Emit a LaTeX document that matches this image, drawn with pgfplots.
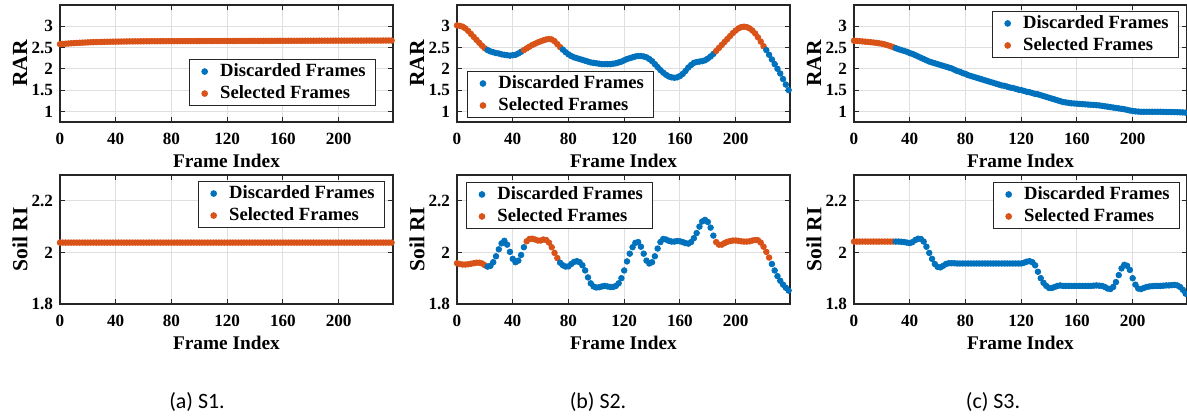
\documentclass[border=0pt]{standalone}
\usepackage{pgfplots}
\pgfplotsset{compat=1.18}
\usepackage{fontspec}
\setmainfont{Liberation Serif}
\newfontfamily\capfont{Carlito}
\definecolor{mblue}{RGB}{0,114,189}
\definecolor{morange}{RGB}{217,83,25}
\definecolor{axc}{RGB}{38,38,38}
\definecolor{gridc}{RGB}{223,223,223}
\pgfplotsset{
  mstyle/.style={
    scale only axis, width=166.5bp,
    xmin=0, xmax=239, xtick={0,40,80,120,160,200},
    grid=major, major grid style={line width=0.5bp, color=gridc},
    axis line style={line width=0.6bp, color=axc},
    tick style={line width=0.5bp, color=axc}, major tick length=2.5bp, tick align=inside,
    ticklabel style={font=\rmfamily\bfseries\fontsize{8.6}{9.5}\selectfont, text=black},
    xticklabel style={yshift=-2bp},
    /pgf/number format/assume math mode=true,
    label style={font=\rmfamily\bfseries\fontsize{9.7}{11}\selectfont, text=black},
    xlabel={Frame Index},
    xlabel style={at={(axis description cs:0.5,0)}, anchor=base, yshift=-23bp},
    ylabel style={at={(axis description cs:-0.1201,0.5)}, anchor=center, font=\rmfamily\bfseries\fontsize{10.8}{12}\selectfont},
    legend style={font=\rmfamily\bfseries\fontsize{9.35}{11}\selectfont, draw=axc, line width=0.5bp, fill=white,
      inner xsep=3pt, inner ysep=0.5bp, cells={anchor=west},
      nodes={inner xsep=2pt, inner ysep=0.8bp, text height=7bp, text depth=2.4bp}},
    legend image code/.code={\path (0bp,0bp) (10bp,0bp); \draw[##1] plot coordinates {(4.5bp,0bp)};},
  },
  toprow/.style={height=58.5bp, ymin=0.75, ymax=3.5, ytick={1,1.5,2,2.5,3}, ylabel={RAR}},
  botrow/.style={height=64.5bp, ymin=1.8, ymax=2.3, ytick={1.8,2,2.2}, ylabel={Soil RI}},
  bl/.style={only marks, mark=*, mark size=1.4bp, color=mblue, forget plot},
  og/.style={only marks, mark=*, mark size=1.4bp, color=morange, forget plot},
}
\newcommand\leg{%
  \addlegendimage{only marks, mark=*, mark size=1.4bp, color=mblue}\addlegendentry{Discarded Frames}%
  \addlegendimage{only marks, mark=*, mark size=1.4bp, color=morange}\addlegendentry{Selected Frames}}
\begin{document}
\begin{tikzpicture}
\path[use as bounding box] (0,0) rectangle (593.5bp,209.5bp);
% ---------------- (a) top
\begin{axis}[mstyle, toprow, at={(30bp,148.5bp)}, anchor=south west,
  legend style={at={(0.949,0.538)}, anchor=north east}]
\leg
\addplot[og] coordinates {(0,2.580)(2,2.585)(4,2.590)(6,2.595)(8,2.600)(10,2.604)(12,2.608)(14,2.612)(16,2.615)(18,2.618)(20,2.621)(22,2.624)(24,2.626)(26,2.628)(28,2.630)(30,2.632)(32,2.634)(34,2.636)(36,2.637)(38,2.638)(40,2.639)(42,2.640)(44,2.641)(46,2.642)(48,2.643)(50,2.644)(52,2.644)(54,2.645)(56,2.645)(58,2.646)(60,2.646)(62,2.647)(64,2.647)(66,2.648)(68,2.648)(70,2.648)(72,2.649)(74,2.649)(76,2.649)(78,2.650)(80,2.650)(82,2.650)(84,2.650)(86,2.651)(88,2.651)(90,2.651)(92,2.651)(94,2.651)(96,2.652)(98,2.652)(100,2.652)(102,2.652)(104,2.652)(106,2.653)(108,2.653)(110,2.653)(112,2.653)(114,2.653)(116,2.654)(118,2.654)(120,2.654)(122,2.654)(124,2.654)(126,2.655)(128,2.655)(130,2.655)(132,2.655)(134,2.655)(136,2.656)(138,2.656)(140,2.656)(142,2.656)(144,2.656)(146,2.657)(148,2.657)(150,2.657)(152,2.657)(154,2.657)(156,2.658)(158,2.658)(160,2.658)(162,2.658)(164,2.658)(166,2.659)(168,2.659)(170,2.659)(172,2.659)(174,2.659)(176,2.660)(178,2.660)(180,2.660)(182,2.660)(184,2.660)(186,2.661)(188,2.661)(190,2.661)(192,2.661)(194,2.661)(196,2.662)(198,2.662)(200,2.662)(202,2.662)(204,2.662)(206,2.662)(208,2.663)(210,2.663)(212,2.663)(214,2.663)(216,2.663)(218,2.663)(220,2.664)(222,2.664)(224,2.664)(226,2.664)(228,2.664)(230,2.664)(232,2.665)(234,2.665)(236,2.665)(238,2.665)};
\end{axis}
% ---------------- (b) top
\begin{axis}[mstyle, toprow, at={(228.5bp,148.5bp)}, anchor=south west,
  legend style={at={(0.03,0.034)}, anchor=south west}]
\leg
\addplot[og] coordinates {(0,3.02)(2,3.01)(4,2.99)(6,2.95)(8,2.89)(10,2.82)(12,2.75)(14,2.68)(16,2.61)(18,2.54)(20,2.48)};
\addplot[bl] coordinates {(22,2.44)(24,2.41)(26,2.39)(28,2.37)(30,2.36)(32,2.34)(34,2.33)(36,2.32)(38,2.31)(40,2.32)(42,2.33)(44,2.36)(46,2.40)};
\addplot[og] coordinates {(48,2.44)(50,2.48)(52,2.52)(54,2.56)(56,2.59)(58,2.62)(60,2.645)(62,2.67)(64,2.69)(66,2.70)(68,2.69)(70,2.65)(72,2.58)(74,2.51)};
\addplot[bl] coordinates {(76,2.45)(78,2.39)(80,2.34)(82,2.30)(84,2.27)(86,2.25)(88,2.23)(90,2.21)(92,2.19)(94,2.17)(96,2.15)(98,2.14)(100,2.13)(102,2.12)(104,2.11)(106,2.11)(108,2.11)(110,2.11)(112,2.12)(114,2.13)(116,2.15)(118,2.17)(120,2.20)(122,2.23)(124,2.25)(126,2.27)(128,2.29)(130,2.30)(132,2.30)(134,2.29)(136,2.27)(138,2.23)(140,2.18)(142,2.11)(144,2.04)(146,1.97)(148,1.91)(150,1.86)(152,1.82)(154,1.80)(156,1.79)(158,1.80)(160,1.83)(162,1.88)(164,1.95)(166,2.03)(168,2.09)(170,2.14)(172,2.16)(174,2.17)(176,2.18)(178,2.20)(180,2.24)(182,2.29)(184,2.35)};
\addplot[og] coordinates {(186,2.42)(188,2.49)(190,2.56)(192,2.63)(194,2.70)(196,2.77)(198,2.84)(200,2.90)(202,2.95)(204,2.98)(206,2.99)(208,2.98)(210,2.95)(212,2.90)(214,2.83)(216,2.74)(218,2.64)(220,2.53)};
\addplot[bl] coordinates {(222,2.44)(224,2.33)(226,2.22)(228,2.11)(230,2.00)(232,1.89)(234,1.76)(236,1.63)(238,1.50)};
\end{axis}
% ---------------- (c) top
\begin{axis}[mstyle, toprow, at={(427bp,148.5bp)}, anchor=south west,
  legend style={at={(0.976,0.949)}, anchor=north east}]
\leg
\addplot[og] coordinates {(0,2.660)(2,2.655)(4,2.650)(6,2.644)(8,2.638)(10,2.632)(12,2.625)(14,2.618)(16,2.610)(18,2.600)(20,2.590)(22,2.575)(24,2.555)(26,2.535)(28,2.510)};
\addplot[bl] coordinates {(30,2.485)(32,2.46)(34,2.44)(36,2.42)(38,2.40)(40,2.37)(42,2.35)(44,2.32)(46,2.29)(48,2.26)(50,2.23)(52,2.20)(54,2.17)(56,2.15)(58,2.13)(60,2.11)(62,2.09)(64,2.07)(66,2.05)(68,2.03)(70,2.01)(72,1.98)(74,1.95)(76,1.93)(78,1.90)(80,1.88)(82,1.85)(84,1.83)(86,1.81)(88,1.79)(90,1.77)(92,1.75)(94,1.73)(96,1.71)(98,1.69)(100,1.67)(102,1.65)(104,1.63)(106,1.61)(108,1.60)(110,1.58)(112,1.56)(114,1.55)(116,1.53)(118,1.51)(120,1.50)(122,1.48)(124,1.46)(126,1.45)(128,1.43)(130,1.41)(132,1.40)(134,1.38)(136,1.36)(138,1.34)(140,1.32)(142,1.30)(144,1.28)(146,1.26)(148,1.24)(150,1.22)(152,1.21)(154,1.20)(156,1.19)(158,1.185)(160,1.18)(162,1.175)(164,1.17)(166,1.165)(168,1.16)(170,1.155)(172,1.15)(174,1.145)(176,1.14)(178,1.13)(180,1.12)(182,1.11)(184,1.10)(186,1.09)(188,1.08)(190,1.07)(192,1.06)(194,1.05)(196,1.035)(198,1.02)(200,1.01)(202,1.00)(204,0.995)(206,0.99)(208,0.99)(210,0.99)(212,0.99)(214,0.99)(216,0.99)(218,0.99)(220,0.99)(222,0.988)(224,0.986)(226,0.985)(228,0.984)(230,0.982)(232,0.98)(234,0.978)(236,0.975)(238,0.97)};
\end{axis}
% ---------------- (a) bottom
\begin{axis}[mstyle, botrow, at={(30bp,57.5bp)}, anchor=south west,
  legend style={at={(0.976,0.953)}, anchor=north east}]
\leg
\addplot[og] coordinates {(0,2.038)(2,2.038)(4,2.038)(6,2.038)(8,2.038)(10,2.038)(12,2.038)(14,2.038)(16,2.038)(18,2.038)(20,2.038)(22,2.038)(24,2.038)(26,2.038)(28,2.038)(30,2.038)(32,2.038)(34,2.038)(36,2.038)(38,2.038)(40,2.038)(42,2.038)(44,2.038)(46,2.038)(48,2.038)(50,2.038)(52,2.038)(54,2.038)(56,2.038)(58,2.038)(60,2.038)(62,2.038)(64,2.038)(66,2.038)(68,2.038)(70,2.038)(72,2.038)(74,2.038)(76,2.038)(78,2.038)(80,2.038)(82,2.038)(84,2.038)(86,2.038)(88,2.038)(90,2.038)(92,2.038)(94,2.038)(96,2.038)(98,2.038)(100,2.038)(102,2.038)(104,2.038)(106,2.038)(108,2.038)(110,2.038)(112,2.038)(114,2.038)(116,2.038)(118,2.038)(120,2.038)(122,2.038)(124,2.038)(126,2.038)(128,2.038)(130,2.038)(132,2.038)(134,2.038)(136,2.038)(138,2.038)(140,2.038)(142,2.038)(144,2.038)(146,2.038)(148,2.038)(150,2.038)(152,2.038)(154,2.038)(156,2.038)(158,2.038)(160,2.038)(162,2.038)(164,2.038)(166,2.038)(168,2.038)(170,2.038)(172,2.038)(174,2.038)(176,2.038)(178,2.038)(180,2.038)(182,2.038)(184,2.038)(186,2.038)(188,2.038)(190,2.038)(192,2.038)(194,2.038)(196,2.038)(198,2.038)(200,2.038)(202,2.038)(204,2.038)(206,2.038)(208,2.038)(210,2.038)(212,2.038)(214,2.038)(216,2.038)(218,2.038)(220,2.038)(222,2.038)(224,2.038)(226,2.038)(228,2.038)(230,2.038)(232,2.038)(234,2.038)(236,2.038)(238,2.038)};
\end{axis}
% ---------------- (b) bottom
\begin{axis}[mstyle, botrow, at={(228.5bp,57.5bp)}, anchor=south west,
  legend style={at={(0.027,0.946)}, anchor=north west}]
\leg
\addplot[og] coordinates {(0,1.958)(2,1.955)(4,1.953)(6,1.953)(8,1.954)(10,1.956)(12,1.958)(14,1.960)(16,1.960)(18,1.957)(20,1.950)};
\addplot[bl] coordinates {(22,1.945)(24,1.948)(26,1.962)(28,1.985)(30,2.012)(32,2.035)(34,2.045)(36,2.030)(38,2.002)(40,1.975)(42,1.962)(44,1.968)(46,1.990)(48,2.020)};
\addplot[og] coordinates {(50,2.043)(52,2.052)(54,2.053)(56,2.050)(58,2.046)(60,2.046)(62,2.050)(64,2.048)(66,2.038)(68,2.020)(70,1.998)(72,1.978)};
\addplot[bl] coordinates {(74,1.960)(76,1.950)(78,1.945)(80,1.946)(82,1.955)(84,1.963)(86,1.966)(88,1.962)(90,1.950)(92,1.930)(94,1.903)(96,1.880)(98,1.868)(100,1.864)(102,1.865)(104,1.868)(106,1.870)(108,1.868)(110,1.866)(112,1.866)(114,1.870)(116,1.880)(118,1.900)(120,1.930)(122,1.965)(124,1.995)(126,2.020)(128,2.037)(130,2.040)(132,2.022)(134,1.995)(136,1.968)(138,1.957)(140,1.962)(142,1.985)(144,2.015)(146,2.040)(148,2.052)(150,2.050)(152,2.045)(154,2.042)(156,2.042)(158,2.044)(160,2.043)(162,2.040)(164,2.036)(166,2.034)(168,2.040)(170,2.055)(172,2.075)(174,2.100)(176,2.120)(178,2.126)(180,2.118)(182,2.096)(184,2.065)};
\addplot[og] coordinates {(186,2.040)(188,2.030)(190,2.030)(192,2.036)(194,2.041)(196,2.044)(198,2.046)(200,2.046)(202,2.045)(204,2.043)(206,2.042)(208,2.042)(210,2.043)(212,2.046)(214,2.048)(216,2.047)(218,2.038)(220,2.022)(222,2.002)(224,1.980)};
\addplot[bl] coordinates {(226,1.955)(228,1.930)(230,1.908)(232,1.890)(234,1.875)(236,1.863)(238,1.852)};
\end{axis}
% ---------------- (c) bottom
\begin{axis}[mstyle, botrow, at={(427bp,57.5bp)}, anchor=south west,
  legend style={at={(0.979,0.946)}, anchor=north east}]
\leg
\addplot[og] coordinates {(0,2.042)(2,2.042)(4,2.042)(6,2.042)(8,2.042)(10,2.042)(12,2.042)(14,2.042)(16,2.042)(18,2.042)(20,2.042)(22,2.042)(24,2.042)(26,2.042)(28,2.042)};
\addplot[bl] coordinates {(30,2.042)(32,2.042)(34,2.041)(36,2.040)(38,2.038)(40,2.036)(42,2.040)(44,2.048)(46,2.053)(48,2.052)(50,2.042)(52,2.022)(54,1.998)(56,1.975)(58,1.955)(60,1.944)(62,1.942)(64,1.948)(66,1.955)(68,1.958)(70,1.958)(72,1.958)(74,1.957)(76,1.957)(78,1.957)(80,1.957)(82,1.957)(84,1.957)(86,1.957)(88,1.957)(90,1.957)(92,1.957)(94,1.957)(96,1.957)(98,1.957)(100,1.957)(102,1.957)(104,1.957)(106,1.957)(108,1.957)(110,1.957)(112,1.957)(114,1.957)(116,1.957)(118,1.957)(120,1.957)(122,1.960)(124,1.964)(126,1.966)(128,1.962)(130,1.950)(132,1.925)(134,1.900)(136,1.882)(138,1.870)(140,1.862)(142,1.862)(144,1.866)(146,1.870)(148,1.872)(150,1.870)(152,1.870)(154,1.870)(156,1.870)(158,1.870)(160,1.870)(162,1.870)(164,1.870)(166,1.870)(168,1.870)(170,1.870)(172,1.871)(174,1.872)(176,1.871)(178,1.870)(180,1.866)(182,1.860)(184,1.858)(186,1.866)(188,1.885)(190,1.912)(192,1.938)(194,1.952)(196,1.948)(198,1.932)(200,1.900)(202,1.875)(204,1.860)(206,1.858)(208,1.862)(210,1.866)(212,1.868)(214,1.869)(216,1.870)(218,1.870)(220,1.870)(222,1.871)(224,1.872)(226,1.872)(228,1.873)(230,1.874)(232,1.872)(234,1.866)(236,1.855)(238,1.840)};
\end{axis}
% ---------------- captions
\node[font=\capfont\fontsize{11}{13}\selectfont, anchor=base] at (98.5bp,5.5bp) {(a) S1.};
\node[font=\capfont\fontsize{11}{13}\selectfont, anchor=base] at (299bp,5.5bp) {(b) S2.};
\node[font=\capfont\fontsize{11}{13}\selectfont, anchor=base] at (496.5bp,5.5bp) {(c) S3.};
\end{tikzpicture}
\end{document}
